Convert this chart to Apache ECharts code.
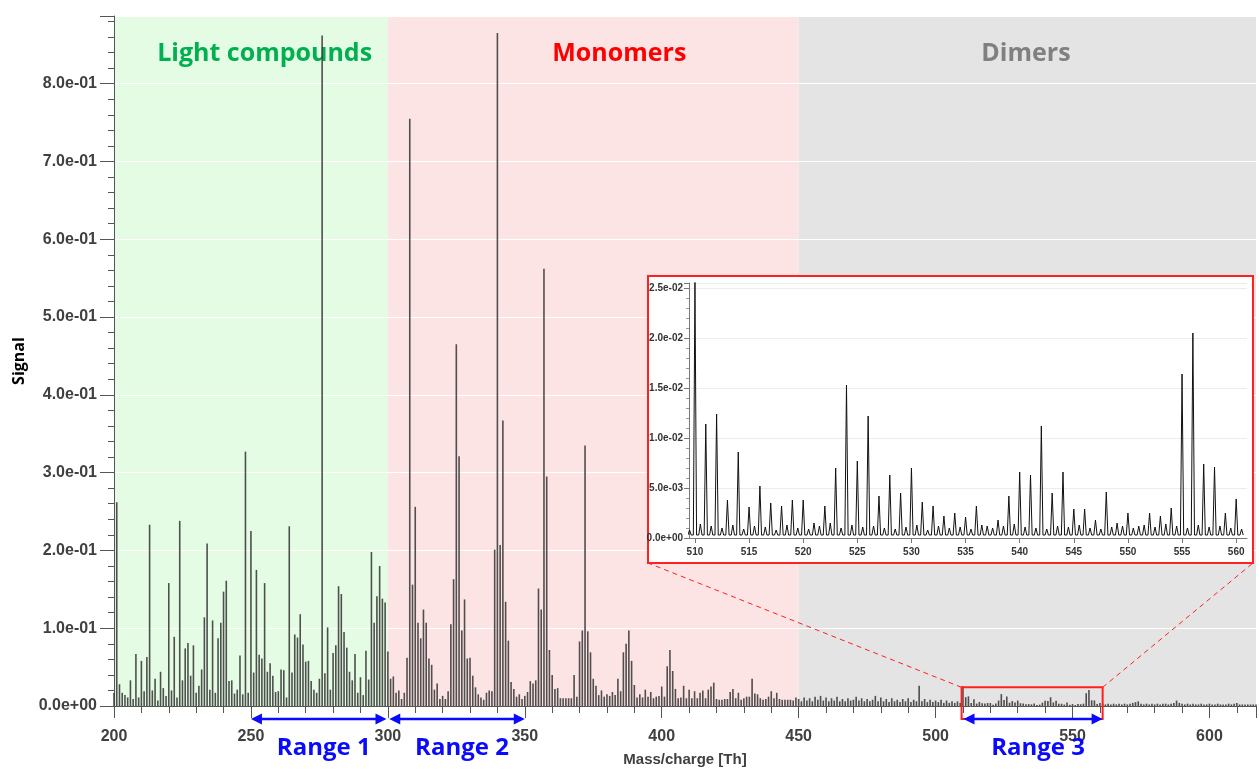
<!DOCTYPE html>
<html>
<head>
<meta charset="utf-8">
<title>Mass spectrum</title>
<script src="https://cdn.jsdelivr.net/npm/echarts@6/dist/echarts.min.js"></script>
<style>
    html, body { margin: 0; padding: 0; background: #fff; }
    #chart { width: 1259px; height: 772px; }
</style>
</head>
<body>
<div id="chart"></div>
<script>
    // signal per unit mass
    const massStart = 200;
    // 200 .. 509
    const signalLow = [
        0.017, 0.262, 0.028, 0.017, 0.014, 0.011, 0.033, 0.009, 0.067, 0.011,
        0.058, 0.019, 0.063, 0.233, 0.020, 0.035, 0.007, 0.044, 0.023, 0.013,
        0.158, 0.020, 0.089, 0.011, 0.238, 0.033, 0.074, 0.081, 0.039, 0.078,
        0.017, 0.026, 0.047, 0.114, 0.209, 0.021, 0.110, 0.017, 0.087, 0.107,
        0.147, 0.161, 0.032, 0.033, 0.016, 0.021, 0.065, 0.015, 0.327, 0.017,
        0.225, 0.043, 0.175, 0.066, 0.061, 0.158, 0.044, 0.055, 0.039, 0.018,
        0.019, 0.047, 0.046, 0.011, 0.231, 0.043, 0.092, 0.088, 0.118, 0.079,
        0.057, 0.058, 0.032, 0.021, 0.017, 0.035, 0.862, 0.042, 0.101, 0.021,
        0.068, 0.078, 0.154, 0.144, 0.095, 0.075, 0.044, 0.033, 0.067, 0.017,
        0.037, 0.014, 0.071, 0.034, 0.198, 0.107, 0.141, 0.180, 0.138, 0.133,
        0.070, 0.035, 0.038, 0.017, 0.020, 0.009, 0.017, 0.062, 0.755, 0.156,
        0.256, 0.107, 0.087, 0.124, 0.107, 0.061, 0.053, 0.021, 0.029, 0.009,
        0.013, 0.009, 0.019, 0.105, 0.163, 0.465, 0.321, 0.097, 0.137, 0.061,
        0.062, 0.039, 0.024, 0.015, 0.011, 0.008, 0.017, 0.020, 0.019, 0.201,
        0.865, 0.207, 0.367, 0.134, 0.084, 0.031, 0.022, 0.012, 0.015, 0.009,
        0.013, 0.018, 0.032, 0.029, 0.033, 0.151, 0.124, 0.562, 0.295, 0.072,
        0.040, 0.022, 0.023, 0.010, 0.010, 0.010, 0.010, 0.010, 0.040, 0.012,
        0.083, 0.097, 0.335, 0.096, 0.069, 0.035, 0.026, 0.014, 0.020, 0.012,
        0.015, 0.013, 0.018, 0.014, 0.035, 0.019, 0.069, 0.080, 0.097, 0.058,
        0.027, 0.011, 0.015, 0.011, 0.021, 0.012, 0.018, 0.010, 0.012, 0.013,
        0.025, 0.012, 0.051, 0.072, 0.045, 0.022, 0.010, 0.011, 0.026, 0.010,
        0.021, 0.010, 0.019, 0.010, 0.017, 0.020, 0.010, 0.021, 0.025, 0.030,
        0.009, 0.008, 0.008, 0.009, 0.009, 0.018, 0.022, 0.010, 0.017, 0.008,
        0.010, 0.012, 0.012, 0.035, 0.016, 0.015, 0.010, 0.008, 0.009, 0.012,
        0.019, 0.010, 0.017, 0.009, 0.008, 0.008, 0.008, 0.008, 0.007, 0.011,
        0.009, 0.006, 0.011, 0.007, 0.010, 0.006, 0.012, 0.008, 0.013, 0.007,
        0.011, 0.006, 0.010, 0.007, 0.012, 0.006, 0.009, 0.006, 0.010, 0.007,
        0.008, 0.012, 0.007, 0.010, 0.006, 0.009, 0.006, 0.008, 0.013, 0.006,
        0.011, 0.006, 0.009, 0.005, 0.010, 0.006, 0.008, 0.005, 0.009, 0.006,
        0.010, 0.005, 0.008, 0.006, 0.026, 0.006, 0.009, 0.005, 0.008, 0.005,
        0.007, 0.005, 0.008, 0.004, 0.007, 0.004, 0.006, 0.004, 0.006, 0.004
    ];
    // 510 .. 560 (also the peaks of the zoomed inset)
    const insetPeaks = [
        0.0256, 0.0114, 0.0124, 0.0038, 0.0086, 0.0031, 0.0052, 0.0035, 0.0032, 0.0038,
        0.0038, 0.0015, 0.0032, 0.0070, 0.0153, 0.0077, 0.0122, 0.0042, 0.0063, 0.0045,
        0.0070, 0.0036, 0.0032, 0.0022, 0.0025, 0.0021, 0.0032, 0.0012, 0.0018, 0.0042,
        0.0066, 0.0063, 0.0112, 0.0045, 0.0066, 0.0029, 0.0029, 0.0018, 0.0046, 0.0015,
        0.0025, 0.0012, 0.0025, 0.0022, 0.0030, 0.0164, 0.0205, 0.0074, 0.0071, 0.0025,
        0.0039
    ];
    // 561 .. 617
    const signalHigh = [
        0.003, 0.002, 0.003, 0.002, 0.003, 0.002, 0.003, 0.002, 0.003, 0.002,
        0.003, 0.004, 0.005, 0.006, 0.003, 0.002, 0.003, 0.002, 0.003, 0.002,
        0.003, 0.002, 0.003, 0.003, 0.002, 0.003, 0.004, 0.007, 0.004, 0.003,
        0.002, 0.003, 0.002, 0.003, 0.002, 0.002, 0.003, 0.002, 0.002, 0.003,
        0.002, 0.002, 0.003, 0.002, 0.002, 0.002, 0.003, 0.002, 0.003, 0.004,
        0.002, 0.002, 0.002, 0.002, 0.002, 0.002, 0.002
    ];
    // inset: small bumps half way between the unit masses 509.5 .. 560.5
    const insetMinorStart = 509;
    const insetMinor = [
        0.0008, 0.0014, 0.0012, 0.0010, 0.0013, 0.0009, 0.0012, 0.0011, 0.0008, 0.0013,
        0.0010, 0.0009, 0.0012, 0.0015, 0.0010, 0.0013, 0.0011, 0.0012, 0.0010, 0.0009,
        0.0011, 0.0013, 0.0008, 0.0012, 0.0010, 0.0011, 0.0009, 0.0013, 0.0010, 0.0012,
        0.0014, 0.0011, 0.0010, 0.0009, 0.0012, 0.0011, 0.0013, 0.0010, 0.0009, 0.0011,
        0.0012, 0.0010, 0.0013, 0.0011, 0.0014, 0.0012, 0.0010, 0.0013, 0.0011, 0.0012,
        0.0010, 0.0009
    ];
    const insetFloor = 0.0003;

    const regionNames = ['Light compounds', 'Monomers', 'Dimers'];
    const regionBounds = [[200, 300], [300, 450], [450, 617]];
    const regionLabelAt = [255, 384.5, 533];
    const rangeNames = ['Range 1', 'Range 2', 'Range 3'];
    const rangeBounds = [[250, 299.5], [300.5, 350], [510.2, 561]];
    const zoomBox = [509.5, 561, 0.024];

    const regionFill = ['#e5fce4', '#fde4e4', '#e4e4e4'];
    const regionText = ['#00b050', '#ff0000', '#808080'];
    const BLUE = '#0a0aff';
    const RED = '#ff2020';
    const insetBox = { x: 648, y: 276, w: 605, h: 287 };

    function sci(v) {
        if (Math.abs(v) < 1e-12) return '0.0e+00';
        let e = Math.floor(Math.log10(Math.abs(v)) + 1e-9);
        let m = v / Math.pow(10, e);
        if (m >= 9.95) { m /= 10; e += 1; }
        return m.toFixed(1) + 'e' + (e < 0 ? '-' : '+') + String(Math.abs(e)).padStart(2, '0');
    }

    const mainData = signalLow.concat(insetPeaks, signalHigh).map((v, i) => [massStart + i, v]);

    const insetData = [];
    insetMinor.forEach((minor, i) => {
        const m = insetMinorStart + i;
        const k = m - 510;
        if (k >= 0 && k < insetPeaks.length) {
            insetData.push([m - 0.15, insetFloor], [m, insetPeaks[k]], [m + 0.15, insetFloor]);
        }
        insetData.push([m + 0.35, insetFloor], [m + 0.5, minor], [m + 0.65, insetFloor]);
    });

    const tickFont = 'Liberation Sans';
    const chart = echarts.init(document.getElementById('chart'));

    chart.setOption({
        animation: false,
        backgroundColor: '#fff',
        grid: [
            { left: 114, top: 16, right: 1, bottom: 62 },
            { left: 689, top: 283, width: 558, height: 255 }
        ],
        xAxis: [
            {
                type: 'value', gridIndex: 0, min: 200, max: 617, interval: 50, z: 2,
                axisLine: { lineStyle: { color: '#555', width: 1 } },
                axisTick: { length: 12, lineStyle: { color: '#555' } },
                minorTick: { show: true, splitNumber: 5, length: 7, lineStyle: { color: '#555' } },
                splitLine: { show: false },
                axisLabel: {
                    margin: 23, color: '#404040', fontFamily: tickFont, fontWeight: 'bold', fontSize: 16,
                    formatter: v => (v % 50 === 0 ? String(v) : '')
                },
                name: 'Mass/charge [Th]', nameLocation: 'middle', nameGap: 46,
                nameTextStyle: { color: '#404040', fontFamily: tickFont, fontWeight: 'bold', fontSize: 15 }
            },
            {
                type: 'value', gridIndex: 1, min: 509.45, max: 561, splitNumber: 10, z: 6,
                axisLine: { lineStyle: { color: '#777' } },
                axisTick: { length: 5, lineStyle: { color: '#777' } },
                splitLine: { show: false },
                axisLabel: {
                    margin: 9, color: '#333', fontFamily: tickFont, fontWeight: 'bold', fontSize: 10,
                    showMinLabel: false, showMaxLabel: false,
                    formatter: v => (Math.abs(v - Math.round(v)) < 1e-6 && Math.round(v) % 5 === 0 ? String(Math.round(v)) : '')
                }
            }
        ],
        yAxis: [
            {
                type: 'value', gridIndex: 0, min: 0, max: 0.887, interval: 0.1, z: 2,
                axisLine: { show: true, lineStyle: { color: '#555' } },
                axisTick: { show: true, length: 14, lineStyle: { color: '#555' } },
                minorTick: { show: true, splitNumber: 5, length: 6, lineStyle: { color: '#555' } },
                splitLine: { show: true, lineStyle: { color: '#ffffff', width: 1 } },
                axisLabel: {
                    margin: 17, color: '#404040', fontFamily: tickFont, fontWeight: 'bold', fontSize: 16,
                    formatter: v => (Math.abs(v * 10 - Math.round(v * 10)) > 1e-6 ? '' : sci(v))
                },
                name: 'Signal', nameLocation: 'middle', nameGap: 84, nameRotate: 90,
                nameTextStyle: { color: '#000', fontFamily: 'Open Sans', fontWeight: 'bold', fontSize: 16 }
            },
            {
                type: 'value', gridIndex: 1, min: 0, max: 0.0255, interval: 0.005, z: 6,
                axisLine: { show: true, lineStyle: { color: '#777' } },
                axisTick: { show: true, length: 5, lineStyle: { color: '#777' } },
                minorTick: { show: true, splitNumber: 5, length: 3, lineStyle: { color: '#999' } },
                splitLine: { show: true, lineStyle: { color: '#ececec' } },
                axisLabel: {
                    margin: 6, color: '#333', fontFamily: tickFont, fontWeight: 'bold', fontSize: 10,
                    formatter: v => (Math.abs(v * 200 - Math.round(v * 200)) > 1e-6 ? '' : sci(v))
                }
            }
        ],
        series: [
            {
                // shaded mass regions
                type: 'line', xAxisIndex: 0, yAxisIndex: 0, data: [], silent: true, z: 1,
                markArea: {
                    silent: true,
                    data: regionBounds.map((b, i) => [
                        { xAxis: b[0], itemStyle: { color: regionFill[i], opacity: 1 } },
                        { xAxis: b[1] }
                    ])
                }
            },
            {
                type: 'bar', xAxisIndex: 0, yAxisIndex: 0, data: mainData, z: 3,
                barWidth: 1.6, silent: true,
                itemStyle: { color: '#3d3d3d', opacity: 0.9 }
            },
            {
                type: 'line', xAxisIndex: 1, yAxisIndex: 1, data: insetData, z: 7,
                showSymbol: false, silent: true,
                lineStyle: { color: '#111', width: 1 }
            }
        ]
    });

    // annotations placed through the main axes
    const px = (x, y) => chart.convertToPixel({ gridIndex: 0 }, [x, y]);
    const base = px(200, 0)[1];
    const arrowY = base + 13;
    const graphics = [];

    regionNames.forEach((name, i) => {
        graphics.push({
            type: 'text', z: 2.5, silent: true,
            x: px(regionLabelAt[i], 0)[0], y: 54,
            style: {
                text: name, fill: regionText[i], font: 'bold 25px "Open Sans"',
                align: 'center', verticalAlign: 'middle'
            }
        });
    });

    // inset frame
    graphics.push({
        type: 'rect', z: 5, silent: true,
        shape: { x: insetBox.x, y: insetBox.y, width: insetBox.w, height: insetBox.h },
        style: { fill: '#fff', stroke: RED, lineWidth: 2 }
    });

    // zoom box on the main spectrum and the dashed guides to the inset
    const zl = px(zoomBox[0], zoomBox[2]);
    const zr = px(zoomBox[1], zoomBox[2]);
    graphics.push({
        type: 'rect', z: 8, silent: true,
        shape: { x: zl[0], y: zl[1], width: zr[0] - zl[0], height: arrowY - zl[1] },
        style: { fill: 'none', stroke: RED, lineWidth: 2 }
    });
    graphics.push({
        type: 'line', z: 8, silent: true,
        shape: { x1: zl[0], y1: zl[1], x2: insetBox.x, y2: insetBox.y + insetBox.h },
        style: { stroke: RED, lineWidth: 1, lineDash: [5, 4] }
    });
    graphics.push({
        type: 'line', z: 8, silent: true,
        shape: { x1: zr[0], y1: zl[1], x2: insetBox.x + insetBox.w, y2: insetBox.y + insetBox.h },
        style: { stroke: RED, lineWidth: 1, lineDash: [5, 4] }
    });

    // range arrows
    rangeBounds.forEach((b, i) => {
        const x1 = px(b[0], 0)[0];
        const x2 = px(b[1], 0)[0];
        graphics.push({
            type: 'line', z: 9, silent: true,
            shape: { x1: x1 + 6, y1: arrowY, x2: x2 - 6, y2: arrowY },
            style: { stroke: BLUE, lineWidth: 2.5 }
        });
        graphics.push({
            type: 'polygon', z: 9, silent: true,
            shape: { points: [[x1, arrowY], [x1 + 11, arrowY - 5.5], [x1 + 11, arrowY + 5.5]] },
            style: { fill: BLUE }
        });
        graphics.push({
            type: 'polygon', z: 9, silent: true,
            shape: { points: [[x2, arrowY], [x2 - 11, arrowY - 5.5], [x2 - 11, arrowY + 5.5]] },
            style: { fill: BLUE }
        });
        graphics.push({
            type: 'text', z: 9, silent: true,
            x: (x1 + x2) / 2 + 5, y: arrowY + 29,
            style: {
                text: rangeNames[i], fill: BLUE, font: 'bold 24px "Open Sans"',
                align: 'center', verticalAlign: 'middle'
            }
        });
    });

    chart.setOption({ graphic: graphics });
</script>
</body>
</html>
